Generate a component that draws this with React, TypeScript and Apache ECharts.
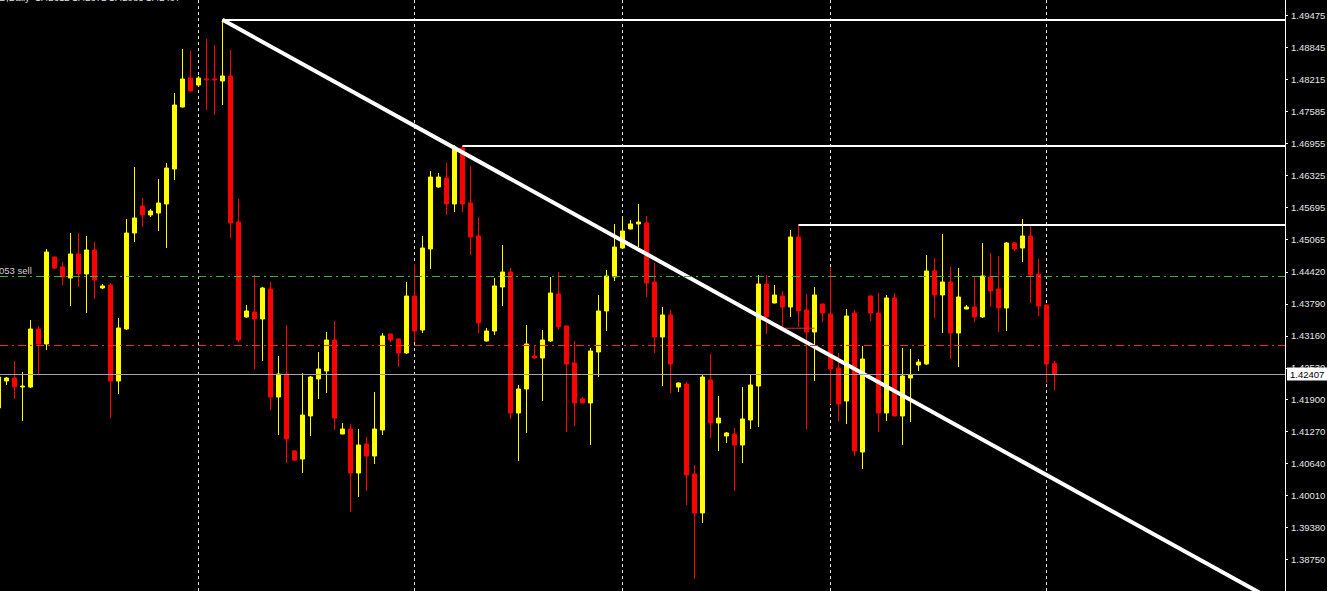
import React, { useEffect, useRef } from "react";
import * as echarts from "echarts";

// Header text of the chart window and the order label on the left edge
const headerText = "EURUSD,Daily  1.42612 1.42672 1.42083 1.42407";
const orderText = "053 sell";

// Daily bars, oldest first: [open, close, low, high]
const bars: number[][] = [
  [1.41738, 1.42349, 1.41698, 1.42388],
  [1.4227, 1.42329, 1.42191, 1.42349],
  [1.42329, 1.42151, 1.41915, 1.42664],
  [1.42151, 1.42171, 1.41481, 1.42447],
  [1.42151, 1.43295, 1.42132, 1.43472],
  [1.43295, 1.42999, 1.42388, 1.43354],
  [1.42999, 1.44813, 1.42881, 1.44872],
  [1.44714, 1.44497, 1.44477, 1.4472],
  [1.44517, 1.4432, 1.44162, 1.44615],
  [1.443, 1.44773, 1.43748, 1.45187],
  [1.44773, 1.44379, 1.44123, 1.45187],
  [1.44379, 1.44852, 1.4361, 1.45128],
  [1.44852, 1.44261, 1.43886, 1.4501],
  [1.44103, 1.44143, 1.44083, 1.44182],
  [1.44162, 1.4227, 1.4154, 1.44202],
  [1.4227, 1.43315, 1.42013, 1.43512],
  [1.43295, 1.45187, 1.43275, 1.45463],
  [1.45187, 1.45483, 1.4501, 1.46488],
  [1.45719, 1.45542, 1.45305, 1.45877],
  [1.45542, 1.45621, 1.45502, 1.4566],
  [1.45581, 1.45778, 1.45227, 1.46252],
  [1.45759, 1.46468, 1.44891, 1.46567],
  [1.46449, 1.4771, 1.46232, 1.47947],
  [1.47671, 1.48223, 1.4766, 1.48814],
  [1.48242, 1.47986, 1.4798, 1.48775],
  [1.48104, 1.48242, 1.48065, 1.48282],
  [1.48223, 1.48203, 1.47612, 1.49011],
  [1.48223, 1.48203, 1.47513, 1.48893],
  [1.48183, 1.48282, 1.4771, 1.4939],
  [1.48282, 1.45384, 1.45089, 1.48794],
  [1.45404, 1.43078, 1.43039, 1.45857],
  [1.43531, 1.4365, 1.4352, 1.43767],
  [1.4363, 1.43492, 1.42506, 1.44359],
  [1.43492, 1.44103, 1.42664, 1.44123],
  [1.44083, 1.41954, 1.41698, 1.44221],
  [1.41954, 1.42408, 1.41205, 1.42762],
  [1.42408, 1.41126, 1.40653, 1.43374],
  [1.4089, 1.40713, 1.40693, 1.4091],
  [1.40732, 1.41599, 1.40456, 1.42427],
  [1.4158, 1.42349, 1.41186, 1.42368],
  [1.4231, 1.42506, 1.41915, 1.42841],
  [1.42467, 1.43078, 1.42033, 1.43236],
  [1.43078, 1.4154, 1.41304, 1.43452],
  [1.41225, 1.41323, 1.4122, 1.41442],
  [1.41323, 1.40456, 1.39687, 1.41422],
  [1.40456, 1.41008, 1.39983, 1.41323],
  [1.41028, 1.40791, 1.40101, 1.41166],
  [1.40791, 1.41323, 1.40634, 1.42053],
  [1.41304, 1.43157, 1.41205, 1.43216],
  [1.43196, 1.43078, 1.43039, 1.4321],
  [1.43098, 1.42822, 1.42546, 1.4311],
  [1.42822, 1.43945, 1.428, 1.44221],
  [1.43945, 1.43255, 1.43039, 1.44576],
  [1.43275, 1.44891, 1.43216, 1.45128],
  [1.44872, 1.4629, 1.44477, 1.46409],
  [1.46094, 1.4629, 1.4608, 1.4637],
  [1.46271, 1.45759, 1.45542, 1.46567],
  [1.45759, 1.46863, 1.45601, 1.46922],
  [1.46863, 1.45759, 1.45601, 1.46912],
  [1.45778, 1.45108, 1.44753, 1.46508],
  [1.45128, 1.43413, 1.43216, 1.45502],
  [1.43058, 1.43255, 1.4305, 1.43315],
  [1.43255, 1.44143, 1.43177, 1.443],
  [1.44123, 1.44418, 1.43748, 1.44951],
  [1.44418, 1.41639, 1.41521, 1.44497],
  [1.41639, 1.42112, 1.40693, 1.42191],
  [1.42112, 1.42999, 1.41245, 1.43374],
  [1.42762, 1.42723, 1.42703, 1.42979],
  [1.42723, 1.43078, 1.41875, 1.43275],
  [1.43058, 1.44004, 1.43039, 1.4432],
  [1.43985, 1.43334, 1.43295, 1.44418],
  [1.43354, 1.42605, 1.41264, 1.4336],
  [1.42625, 1.41836, 1.41383, 1.43058],
  [1.41915, 1.41836, 1.4183, 1.41954],
  [1.41836, 1.42861, 1.41008, 1.4292],
  [1.42841, 1.4365, 1.42349, 1.43965],
  [1.4365, 1.4434, 1.43255, 1.44458],
  [1.4432, 1.44911, 1.44241, 1.45365],
  [1.44891, 1.45227, 1.4488, 1.45502],
  [1.45266, 1.45365, 1.4526, 1.45443],
  [1.45365, 1.45404, 1.44911, 1.45759],
  [1.45384, 1.44202, 1.43926, 1.45522],
  [1.44221, 1.43137, 1.42822, 1.44596],
  [1.43137, 1.43571, 1.42171, 1.43728],
  [1.43571, 1.42605, 1.42033, 1.43669],
  [1.42151, 1.4223, 1.42053, 1.4224],
  [1.4221, 1.40417, 1.39825, 1.4225],
  [1.40437, 1.39668, 1.38367, 1.40614],
  [1.39668, 1.42349, 1.3947, 1.42408],
  [1.4229, 1.41442, 1.41146, 1.42802],
  [1.41442, 1.4154, 1.4089, 1.41974],
  [1.41186, 1.41245, 1.41048, 1.41264],
  [1.41225, 1.41008, 1.40101, 1.41343],
  [1.41008, 1.41521, 1.40653, 1.42151],
  [1.41501, 1.42191, 1.41323, 1.42388],
  [1.42171, 1.44182, 1.41363, 1.44359],
  [1.44182, 1.43531, 1.43196, 1.44359],
  [1.43807, 1.43965, 1.438, 1.44162],
  [1.43945, 1.43728, 1.43334, 1.44044],
  [1.43728, 1.45108, 1.43531, 1.45246],
  [1.45108, 1.4365, 1.43334, 1.4535],
  [1.4367, 1.43235, 1.41323, 1.43985],
  [1.43235, 1.43965, 1.4227, 1.44123],
  [1.43787, 1.4361, 1.43433, 1.438],
  [1.43591, 1.42506, 1.41816, 1.44517],
  [1.42526, 1.41816, 1.41481, 1.42822],
  [1.41875, 1.43551, 1.41422, 1.43689],
  [1.4361, 1.4089, 1.40791, 1.43669],
  [1.4087, 1.42703, 1.40535, 1.42959],
  [1.43945, 1.4361, 1.43452, 1.4396],
  [1.4361, 1.41639, 1.41264, 1.44004],
  [1.41639, 1.43906, 1.41481, 1.43965],
  [1.43906, 1.4158, 1.4157, 1.44004],
  [1.4158, 1.42368, 1.41008, 1.4292],
  [1.42329, 1.42388, 1.41462, 1.429],
  [1.42585, 1.42644, 1.42467, 1.42703],
  [1.42605, 1.44438, 1.42585, 1.44753],
  [1.44438, 1.43965, 1.43512, 1.44694],
  [1.43965, 1.44221, 1.43216, 1.45167],
  [1.44221, 1.43216, 1.42703, 1.44517],
  [1.43216, 1.43926, 1.42546, 1.44497],
  [1.43689, 1.43728, 1.4368, 1.43767],
  [1.43728, 1.43531, 1.43433, 1.4432],
  [1.43531, 1.4434, 1.43512, 1.4499],
  [1.4432, 1.44044, 1.43728, 1.44793],
  [1.44083, 1.43709, 1.43236, 1.44734],
  [1.43709, 1.4499, 1.43255, 1.4501],
  [1.4499, 1.44872, 1.44832, 1.4501],
  [1.44891, 1.45128, 1.44615, 1.45463],
  [1.45128, 1.44359, 1.43807, 1.45325],
  [1.44379, 1.43748, 1.43551, 1.44674],
  [1.43767, 1.42605, 1.42231, 1.4378],
  [1.42612, 1.42407, 1.42083, 1.42672],
];

// Price scale ticks shown on the right
const priceTicks = [
  1.3812, 1.3875, 1.3938, 1.4001, 1.4064, 1.4127, 1.419, 1.4253, 1.4316,
  1.4379, 1.4442, 1.45065, 1.45695, 1.46325, 1.46955, 1.47585, 1.48215,
  1.48845, 1.49475,
];

// Visible window: bar index range and price range
const barRange = [0.1875, 160.8125];
const priceRange = [1.3813, 1.4978];

// Period separators (bar indices)
const separators = [25, 52, 78, 104, 131];

// Order levels and current bid
const sellLevel = 1.4433;
const stopLevel = 1.42969;
const bidPrice = 1.42407;

// Horizontal rays from swing highs: [bar index, price]
const swingHighs: number[][] = [
  [28, 1.4939],
  [58, 1.46912],
  [100, 1.4535],
];

// Down trend line anchors: [bar index, price]
const trendLine: number[][] = [
  [28, 1.4939],
  [160.8125, 1.3782],
];

// Closed trade connector: [bar index, price]
const tradeLine: number[][] = [
  [98, 1.4331],
  [102, 1.4331],
];

const BULL = "#ffff00";
const BEAR = "#ff0000";
const FONT = "Liberation Sans";

export default function App() {
  const ref = useRef<HTMLDivElement>(null);

  useEffect(() => {
    if (!ref.current) return;
    const chart = echarts.init(ref.current, undefined, { renderer: "svg" });
    const xMax = barRange[1];

    chart.setOption({
      animation: false,
      backgroundColor: "#000000",
      grid: {
        left: 0,
        right: 42,
        top: 0,
        bottom: 0,
        containLabel: false,
        outerBoundsMode: "none",
      },
      xAxis: {
        type: "value",
        min: barRange[0],
        max: barRange[1],
        show: false,
        splitLine: { show: false },
      },
      yAxis: {
        type: "value",
        position: "right",
        min: priceRange[0],
        max: priceRange[1],
        splitLine: { show: false },
        axisLine: { show: true, lineStyle: { color: "#ffffff", width: 1 } },
        axisTick: {
          show: true,
          length: 3,
          customValues: priceTicks,
          lineStyle: { color: "#ffffff" },
        },
        axisLabel: {
          customValues: priceTicks,
          formatter: (v: number) => v.toFixed(5),
          color: "#e6e6e6",
          fontSize: 9.5,
          fontFamily: FONT,
          margin: 6,
        },
      },
      graphic: [
        {
          type: "text",
          x: -34,
          y: -8,
          z: 10,
          style: {
            text: headerText,
            fill: "#e0e0e0",
            font: `9.5px "${FONT}"`,
            verticalAlign: "top",
          },
        },
        {
          type: "text",
          x: -1,
          y: 265,
          z: 10,
          style: {
            text: orderText,
            fill: "#d0d0d0",
            font: `9.5px "${FONT}"`,
            verticalAlign: "top",
          },
        },
      ],
      series: [
        {
          // period separators behind the bars
          type: "line",
          z: 1,
          data: [],
          silent: true,
          markLine: {
            z: 1,
            silent: true,
            precision: 6,
            symbol: "none",
            label: { show: false },
            lineStyle: { color: "#e0e0e0", width: 1, type: [3, 3] },
            data: separators.map((v) => ({ xAxis: v })),
          },
        },
        {
          type: "candlestick",
          z: 2,
          barWidth: 4,
          encode: { x: 0, y: [1, 2, 3, 4] },
          data: bars.map((b, i) => [i, b[0], b[1], b[2], b[3]]),
          itemStyle: {
            color: BULL,
            color0: BEAR,
            borderColor: BULL,
            borderColor0: BEAR,
            borderWidth: 1,
          },
        },
        {
          // order levels and bid line
          type: "line",
          z: 3,
          data: [],
          silent: true,
          markLine: {
            silent: true,
            precision: 6,
            symbol: "none",
            label: { show: false },
            data: [
              {
                yAxis: sellLevel,
                lineStyle: { color: "#3fb03f", width: 1, type: [8, 4, 2, 4] },
              },
              {
                yAxis: stopLevel,
                lineStyle: { color: "#ff2424", width: 1, type: [8, 4, 2, 4] },
              },
              {
                yAxis: bidPrice,
                lineStyle: { color: "#a0a4ac", width: 1, type: "solid" },
                label: {
                  show: true,
                  position: "end",
                  distance: 2,
                  formatter: bidPrice.toFixed(5),
                  backgroundColor: "#ffffff",
                  color: "#000000",
                  fontSize: 9.5,
                  fontFamily: FONT,
                  padding: [2, 3, 1, 3],
                },
              },
            ],
          },
        },
        {
          // closed trade connector
          type: "line",
          z: 3,
          data: tradeLine,
          symbol: "none",
          lineStyle: { color: "#d03030", width: 1 },
          silent: true,
        },
        {
          // trend line and horizontal rays
          type: "line",
          z: 4,
          data: trendLine,
          symbol: "none",
          lineStyle: { color: "#ffffff", width: 4 },
          silent: true,
          markLine: {
            silent: true,
            precision: 6,
            symbol: "none",
            label: { show: false },
            lineStyle: { color: "#ffffff", width: 2, type: "solid" },
            data: swingHighs.map(([k, p]) => [
              { coord: [k, p] },
              { coord: [xMax, p] },
            ]),
          },
        },
      ],
    });

    return () => chart.dispose();
  }, []);

  return (
    <div
      ref={ref}
      style={{
        position: "fixed",
        left: 0,
        top: 0,
        width: 1327,
        height: 591,
        background: "#000000",
      }}
    />
  );
}
